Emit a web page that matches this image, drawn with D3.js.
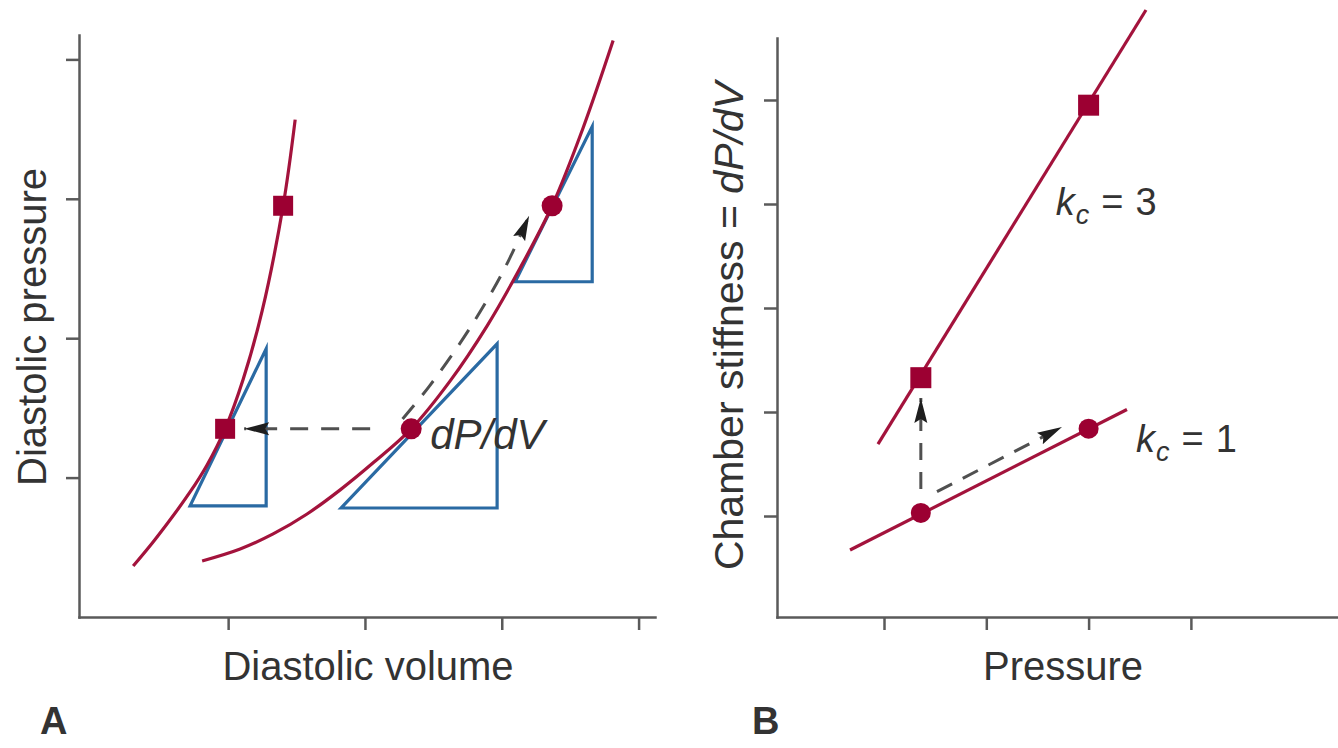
<!DOCTYPE html>
<html>
<head>
<meta charset="utf-8">
<script src="https://cdn.jsdelivr.net/npm/d3@7"></script>
<style>
  html, body { margin: 0; padding: 0; background: #fff; }
  svg { display: block; }
  text { font-family: "Liberation Sans", Arial, Helvetica, sans-serif; fill: #333; }
</style>
</head>
<body>
<svg id="chart" width="1338" height="748"></svg>
<script>
// ---------- Panel A: diastolic pressure–volume relations (arbitrary units) ----------
const volumeTicks = [1, 2, 3, 4];
const pressureTicks = [1, 2, 3, 4];

// stiff ventricle (steep curve), [volume, pressure]
const stiffCurve = [
  [0.306, 0.366], [0.466, 0.556], [0.722, 0.897], [0.846, 1.091], [0.978, 1.350],
  [1.110, 1.705], [1.249, 2.197], [1.402, 2.950], [1.490, 3.568]
];
// compliant ventricle (shallow curve)
const compliantCurve = [
  [0.810, 0.402], [1.088, 0.488], [1.329, 0.596], [1.577, 0.739], [1.819, 0.912],
  [2.060, 1.106], [2.338, 1.350], [2.623, 1.694], [2.893, 2.089], [3.135, 2.505],
  [3.368, 2.950], [3.595, 3.510], [3.814, 4.135]
];
const stiffPoints = [[0.978, 1.350], [1.402, 2.950]];
const compliantPoints = [[2.338, 1.350], [3.368, 2.950]];

// tangent (dP/dV) triangles: base-left, base-right, apex
const slopeTriangles = [
  [[0.722, 0.797], [1.278, 0.797], [1.278, 1.924]],
  [[1.826, 0.782], [2.966, 0.782], [2.966, 1.960]],
  [[3.098, 2.405], [3.661, 2.405], [3.661, 3.518]]
];

// dashed arrows
const shiftArrowA = [[2.038, 1.350], [1.117, 1.350]];
const climbArrowA = [[2.275, 1.421], [2.474, 1.660], [2.763, 2.066], [3.015, 2.489], [3.200, 2.879]];
const slopeLabel = { text: "dP/dV", v: 2.477, p: 1.206 };

// ---------- Panel B: chamber stiffness vs pressure ----------
const pressureTicksB = [1, 2, 3, 4];
const stiffnessTicks = [1, 2, 3, 4, 5];

const kc3Line = [[0.941, 1.692], [3.561, 5.865]];
const kc1Line = [[0.668, 0.673], [3.375, 2.024]];
const kc3Points = [[1.36, 2.33], [3.00, 4.95]];
const kc1Points = [[1.36, 1.03], [3.00, 1.84]];
const upArrowB = [[1.36, 1.26], [1.36, 2.135]];
const alongArrowB = [[1.518, 1.234], [2.740, 1.856]];
const kcLabels = [
  { value: "3", x: 2.68, y: 3.894 },
  { value: "1", x: 3.463, y: 1.618 }
];

// ---------- styling ----------
const RED = "#a3133c";
const MARK = "#9c0032";
const BLUE = "#2a6aa3";
const AXIS = "#5a5a5a";
const DASH = "#505050";

const svg = d3.select("#chart");

const defs = svg.append("defs");
defs.append("marker")
  .attr("id", "arrowhead")
  .attr("viewBox", "0 -7 25 14")
  .attr("refX", 25).attr("refY", 0)
  .attr("markerUnits", "userSpaceOnUse")
  .attr("markerWidth", 25).attr("markerHeight", 14)
  .attr("orient", "auto")
  .append("path")
  .attr("d", "M0,-6.5L25,0L0,6.5L4,0Z")
  .attr("fill", "#1e1e1e");

function styleAxis(g) {
  g.select(".domain").attr("stroke", AXIS).attr("stroke-width", 2.5).attr("stroke-linecap", "square");
  g.selectAll(".tick line").attr("stroke", AXIS).attr("stroke-width", 2.5);
  g.selectAll(".tick text").remove();
}

// ===== Panel A =====
const xA = d3.scaleLinear().domain([-0.09, 4.12]).range([79, 655]);
const yA = d3.scaleLinear().domain([0, 4.175]).range([617, 35]);

const gA = svg.append("g");

gA.append("g").attr("transform", "translate(0,617)")
  .call(d3.axisBottom(xA).tickValues(volumeTicks).tickSize(13).tickSizeOuter(0).tickFormat(""))
  .call(styleAxis);
gA.append("g").attr("transform", "translate(79,0)")
  .call(d3.axisLeft(yA).tickValues(pressureTicks).tickSize(13).tickSizeOuter(0).tickFormat(""))
  .call(styleAxis);

// slope triangles
gA.selectAll(".tri").data(slopeTriangles).join("path")
  .attr("class", "tri")
  .attr("d", d => "M" + d.map(p => [xA(p[0]), yA(p[1])].join(",")).join("L") + "Z")
  .attr("fill", "none").attr("stroke", BLUE).attr("stroke-width", 3.2)
  .attr("stroke-linejoin", "miter").attr("stroke-miterlimit", 8);

const lineA = d3.line().x(d => xA(d[0])).y(d => yA(d[1])).curve(d3.curveCatmullRom.alpha(0.5));

[stiffCurve, compliantCurve].forEach(c => {
  gA.append("path").attr("d", lineA(c))
    .attr("fill", "none").attr("stroke", RED).attr("stroke-width", 3.2);
});

// markers
gA.selectAll(".sq").data(stiffPoints).join("rect")
  .attr("x", d => xA(d[0]) - 10).attr("y", d => yA(d[1]) - 10)
  .attr("width", 20).attr("height", 20).attr("fill", MARK);
gA.selectAll(".dot").data(compliantPoints).join("circle")
  .attr("cx", d => xA(d[0])).attr("cy", d => yA(d[1])).attr("r", 10.5).attr("fill", MARK);

// dashed arrows
[shiftArrowA, climbArrowA].forEach(a => {
  gA.append("path").attr("d", lineA(a))
    .attr("fill", "none").attr("stroke", DASH).attr("stroke-width", 3)
    .attr("stroke-dasharray", "18,13").attr("marker-end", "url(#arrowhead)");
});

gA.append("text")
  .attr("x", xA(slopeLabel.v)).attr("y", yA(slopeLabel.p))
  .attr("font-size", 42).attr("font-style", "italic")
  .text(slopeLabel.text);

gA.append("text").attr("x", 368).attr("y", 680)
  .attr("text-anchor", "middle").attr("font-size", 40)
  .text("Diastolic volume");
gA.append("text").attr("transform", "translate(46,327) rotate(-90)")
  .attr("text-anchor", "middle").attr("font-size", 40)
  .text("Diastolic pressure");
gA.append("text").attr("x", 40).attr("y", 734)
  .attr("font-size", 38).attr("font-weight", "bold").text("A");

// ===== Panel B =====
const xB = d3.scaleLinear().domain([-0.046, 5.438]).range([777, 1338]);
const yB = d3.scaleLinear().domain([0.029, 5.596]).range([617, 38]);

const gB = svg.append("g");

gB.append("g").attr("transform", "translate(0,617)")
  .call(d3.axisBottom(xB).tickValues(pressureTicksB).tickSize(13).tickSizeOuter(0).tickFormat(""))
  .call(styleAxis);
gB.append("g").attr("transform", "translate(777,0)")
  .call(d3.axisLeft(yB).tickValues(stiffnessTicks).tickSize(13).tickSizeOuter(0).tickFormat(""))
  .call(styleAxis);

const lineB = d3.line().x(d => xB(d[0])).y(d => yB(d[1]));
[kc3Line, kc1Line].forEach(l => {
  gB.append("path").attr("d", lineB(l))
    .attr("fill", "none").attr("stroke", RED).attr("stroke-width", 3.2);
});

gB.selectAll(".sq").data(kc3Points).join("rect")
  .attr("x", d => xB(d[0]) - 10.5).attr("y", d => yB(d[1]) - 10.5)
  .attr("width", 21).attr("height", 21).attr("fill", MARK);
gB.selectAll(".dot").data(kc1Points).join("circle")
  .attr("cx", d => xB(d[0])).attr("cy", d => yB(d[1])).attr("r", 10).attr("fill", MARK);

[upArrowB, alongArrowB].forEach(a => {
  gB.append("path").attr("d", lineB(a))
    .attr("fill", "none").attr("stroke", DASH).attr("stroke-width", 3)
    .attr("stroke-dasharray", "17,12").attr("marker-end", "url(#arrowhead)");
});

kcLabels.forEach(l => {
  const t = gB.append("text").attr("x", xB(l.x)).attr("y", yB(l.y)).attr("font-size", 38);
  t.append("tspan").attr("font-style", "italic").text("k");
  t.append("tspan").attr("font-style", "italic").attr("font-size", 27).attr("dx", 1).attr("dy", 9).text("c");
  t.append("tspan").attr("dx", 12).attr("dy", -9).text("=");
  t.append("tspan").attr("dx", 12).text(l.value);
});

gB.append("text").attr("x", 1063).attr("y", 680)
  .attr("text-anchor", "middle").attr("font-size", 40)
  .text("Pressure");
const yLabB = gB.append("text").attr("transform", "translate(743,326) rotate(-90)")
  .attr("text-anchor", "middle").attr("font-size", 41);
yLabB.append("tspan").text("Chamber stiffness = ");
yLabB.append("tspan").attr("font-style", "italic").text("dP/dV");
gB.append("text").attr("x", 752).attr("y", 734)
  .attr("font-size", 38).attr("font-weight", "bold").text("B");
</script>
</body>
</html>
